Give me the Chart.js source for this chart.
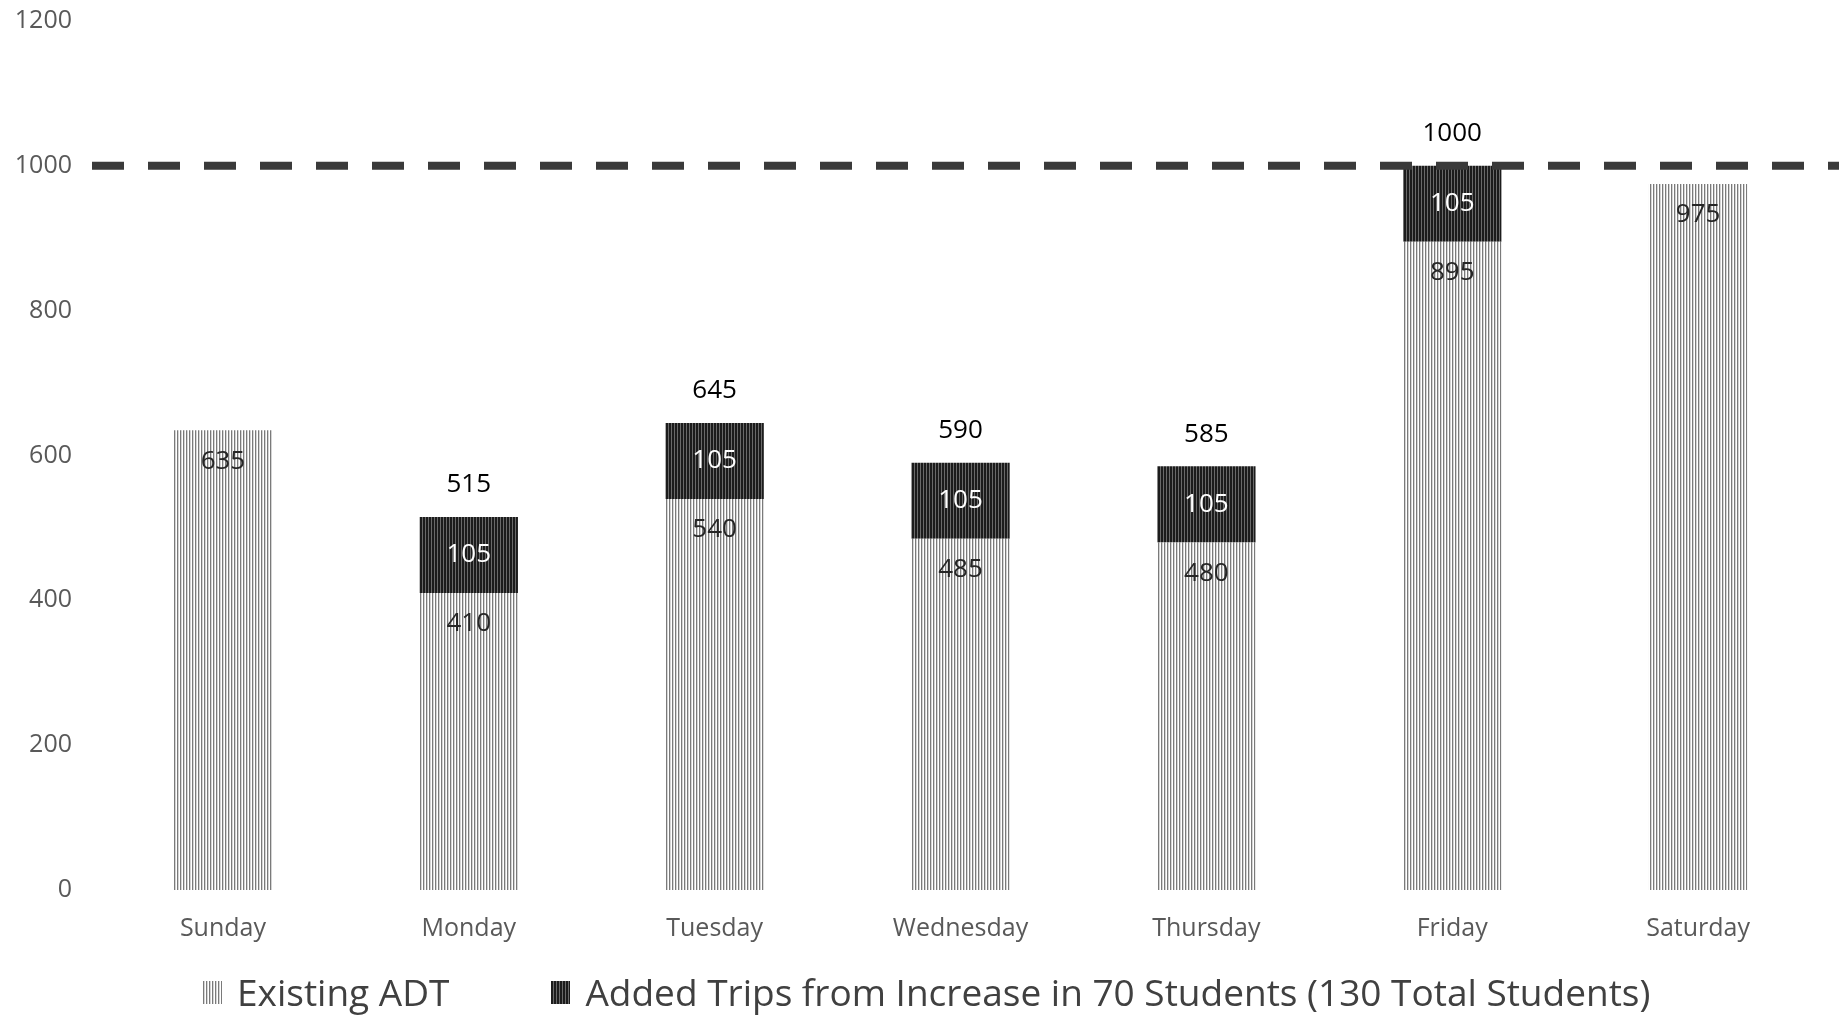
<!DOCTYPE html>
<html>
<head>
<meta charset="utf-8">
<script src="https://cdn.jsdelivr.net/npm/chart.js@4.4.1/dist/chart.umd.min.js"></script>
<style>
  html, body { margin: 0; padding: 0; background: #fff; overflow: hidden; }
  #wrap { position: relative; width: 1847px; height: 1016px; }
  #chart { display: block; }
  #legend {
    position: absolute; left: 203px; top: 970px; height: 44px;
    display: flex; align-items: center;
    font-family: "Open Sans", sans-serif; font-size: 37px; line-height: 44px; color: #404040;
    white-space: nowrap;
  }
  .item { display: flex; align-items: center; }
  .item + .item { margin-left: 102px; }
  .swatch { display: inline-block; width: 19px; height: 23px; margin-right: 15px; }
  .sw-existing { background: repeating-linear-gradient(90deg, #7a7a7a 0 1px, #d4d4d4 1px 2px, #fff 2px 3px); }
  .sw-added { background: repeating-linear-gradient(90deg, #1c1c1c 0 2px, #6a6a6a 2px 3px); }
</style>
</head>
<body>
<div id="wrap">
  <canvas id="chart" width="1847" height="1016"></canvas>
  <div id="legend"></div>
</div>
<script>
// chart data
const days = ["Sunday", "Monday", "Tuesday", "Wednesday", "Thursday", "Friday", "Saturday"];
const existingAdt = [635, 410, 540, 485, 480, 895, 975];
const addedTrips = [0, 105, 105, 105, 105, 105, 0];
const totalLabels = [null, 515, 645, 590, 585, 1000, null];
const thresholdValue = 1000;
const seriesNames = ["Existing ADT", "Added Trips from Increase in 70 Students (130 Total Students)"];
const yMin = 0, yMax = 1200, yStep = 200;

// vertical stripe fills like the original hatch
function stripes(cols) {
  const c = document.createElement("canvas");
  c.width = cols.length;
  c.height = 1;
  const g = c.getContext("2d");
  cols.forEach((col, i) => { g.fillStyle = col; g.fillRect(i, 0, 1, 1); });
  return g.createPattern(c, "repeat");
}
const existingFill = stripes(["#7a7a7a", "#d4d4d4", "#ffffff"]);
const addedFill = stripes(["#1c1c1c", "#1c1c1c", "#6a6a6a"]);

const FONT = '"Open Sans", sans-serif';

// dashed limit line across the plot
const thresholdLine = {
  id: "thresholdLine",
  afterDatasetsDraw(chart) {
    const { ctx, chartArea, scales } = chart;
    const y = scales.y.getPixelForValue(thresholdValue);
    ctx.save();
    ctx.strokeStyle = "#3a3a3a";
    ctx.lineWidth = 8;
    ctx.setLineDash([32, 24]);
    ctx.beginPath();
    ctx.moveTo(chartArea.left - 8, y);
    ctx.lineTo(chart.width - 8, y);
    ctx.stroke();
    ctx.restore();
  }
};

// value labels on the bars
const barLabels = {
  id: "barLabels",
  afterDraw(chart) {
    const ctx = chart.ctx;
    const metaE = chart.getDatasetMeta(0);
    const metaA = chart.getDatasetMeta(1);
    ctx.save();
    ctx.font = "26px " + FONT;
    ctx.textAlign = "center";
    ctx.textBaseline = "middle";
    metaE.data.forEach((bar, i) => {
      ctx.fillStyle = "#262626";
      ctx.fillText(existingAdt[i], bar.x, bar.y + 31);
      const a = metaA.data[i];
      if (addedTrips[i]) {
        ctx.fillStyle = "#ffffff";
        ctx.fillText(addedTrips[i], a.x, (a.y + a.base) / 2);
      }
      if (totalLabels[i] !== null) {
        ctx.fillStyle = "#000000";
        ctx.fillText(totalLabels[i], a.x, a.y - 32);
      }
    });
    ctx.restore();
  }
};

new Chart(document.getElementById("chart"), {
  type: "bar",
  data: {
    labels: days,
    datasets: [
      {
        label: seriesNames[0],
        data: existingAdt,
        backgroundColor: existingFill,
        borderWidth: 0,
        categoryPercentage: 1,
        barPercentage: 0.4
      },
      {
        label: seriesNames[1],
        data: addedTrips,
        backgroundColor: addedFill,
        borderWidth: 0,
        categoryPercentage: 1,
        barPercentage: 0.4
      }
    ]
  },
  options: {
    responsive: false,
    animation: false,
    devicePixelRatio: 1,
    layout: { padding: { left: 15, right: 26, top: 21, bottom: 48 } },
    scales: {
      x: {
        stacked: true,
        grid: { display: false, drawTicks: false },
        border: { display: false },
        ticks: { color: "#595959", font: { family: FONT, size: 25 }, padding: 24 }
      },
      y: {
        stacked: true,
        min: yMin,
        max: yMax,
        grid: { display: false, drawTicks: false },
        border: { display: false },
        ticks: {
          stepSize: yStep,
          color: "#595959",
          font: { family: FONT, size: 25 },
          padding: 28,
          callback: (v) => String(v)
        },
        afterFit(scale) {
          scale.width = 85;
          scale.paddingTop = 0;
          scale.paddingBottom = 0;
        }
      }
    },
    plugins: {
      legend: { display: false },
      tooltip: { enabled: false }
    }
  },
  plugins: [thresholdLine, barLabels]
});

// legend below the axis
const legendEl = document.getElementById("legend");
["sw-existing", "sw-added"].forEach((cls, i) => {
  const item = document.createElement("span");
  item.className = "item";
  item.innerHTML = '<span class="swatch ' + cls + '"></span><span></span>';
  item.lastChild.textContent = seriesNames[i];
  legendEl.appendChild(item);
});
</script>
</body>
</html>
